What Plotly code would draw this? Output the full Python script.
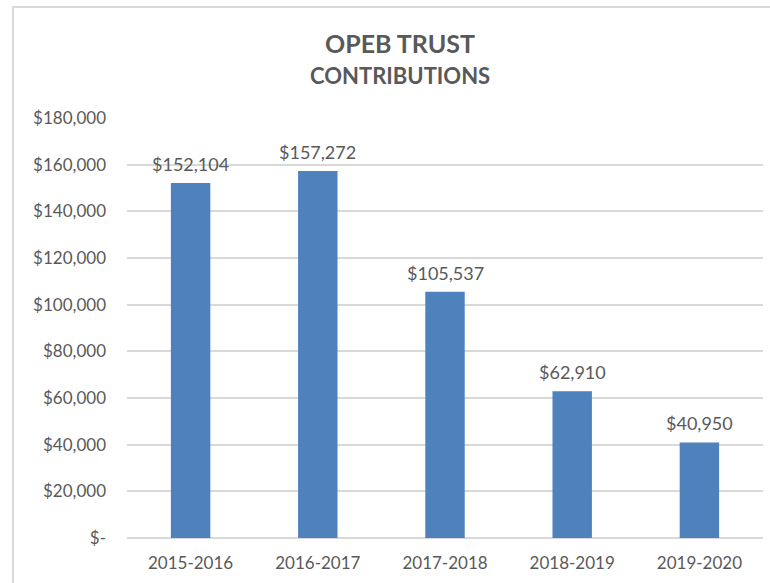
import plotly.graph_objects as go

categories = ["2015-2016", "2016-2017", "2017-2018", "2018-2019", "2019-2020"]
contributions = [152104, 157272, 105537, 62910, 40950]
label_texts = ["$152,104", "$157,272", "$105,537", "$62,910", "$40,950"]
y_tick_vals = [0, 20000, 40000, 60000, 80000, 100000, 120000, 140000, 160000, 180000]
y_tick_text = ["$-", "$20,000", "$40,000", "$60,000", "$80,000", "$100,000",
               "$120,000", "$140,000", "$160,000", "$180,000"]

FONT = "Lato, Carlito, Calibri, sans-serif"
GRAY = "#595959"
W, H = 770, 583
ML, MR, MT, MB = 127, 7, 118, 45

fig = go.Figure()
fig.add_trace(go.Bar(
    x=categories, y=contributions,
    marker=dict(color="#4F81BD", line=dict(width=0)),
    hoverinfo="x+y",
))

for c, v, t in zip(categories, contributions, label_texts):
    fig.add_annotation(x=c, y=v, text=t, showarrow=False, yanchor="bottom",
                       yshift=6, font=dict(family=FONT, size=18, color=GRAY))

pw = W - ML - MR
ph = H - MT - MB
def px_x(p):
    return (p - ML) / pw
def px_y(p):
    return (H - MB - p) / ph

fig.add_annotation(xref="paper", yref="paper", x=px_x(400), y=px_y(43),
                   text="<b>OPEB TRUST</b>", showarrow=False,
                   xanchor="center", yanchor="middle",
                   font=dict(family=FONT, size=25, color=GRAY))
fig.add_annotation(xref="paper", yref="paper", x=px_x(400), y=px_y(76),
                   text="<b>CONTRIBUTIONS</b>", showarrow=False,
                   xanchor="center", yanchor="middle",
                   font=dict(family=FONT, size=22, color=GRAY))

# chart-area frame (extends past the right and bottom edges)
fig.add_shape(type="rect", xref="paper", yref="paper",
              x0=px_x(13), x1=px_x(820), y0=px_y(640), y1=px_y(7),
              line=dict(color="#D9D9D9", width=2), fillcolor="rgba(0,0,0,0)",
              layer="below")

fig.update_layout(
    width=W, height=H,
    margin=dict(l=ML, r=MR, t=MT, b=MB),
    paper_bgcolor="white", plot_bgcolor="white",
    bargap=0.69,
    showlegend=False,
    font=dict(family=FONT, size=17, color=GRAY),
    xaxis=dict(showgrid=False, showline=False, ticks="", zeroline=False,
               tickfont=dict(family=FONT, size=17, color=GRAY),
               ticklabelstandoff=13),
    yaxis=dict(range=[0, 180000], tickvals=y_tick_vals, ticktext=y_tick_text,
               showgrid=True, gridcolor="#D9D9D9", gridwidth=1.5,
               zeroline=True, zerolinecolor="#D9D9D9", zerolinewidth=1.5,
               showline=False, ticks="",
               tickfont=dict(family=FONT, size=17, color=GRAY),
               ticklabelstandoff=20),
)

fig.write_html("out.html", config={"displayModeBar": False},
               post_script="document.body.style.margin='0';document.body.style.overflow='hidden';")
